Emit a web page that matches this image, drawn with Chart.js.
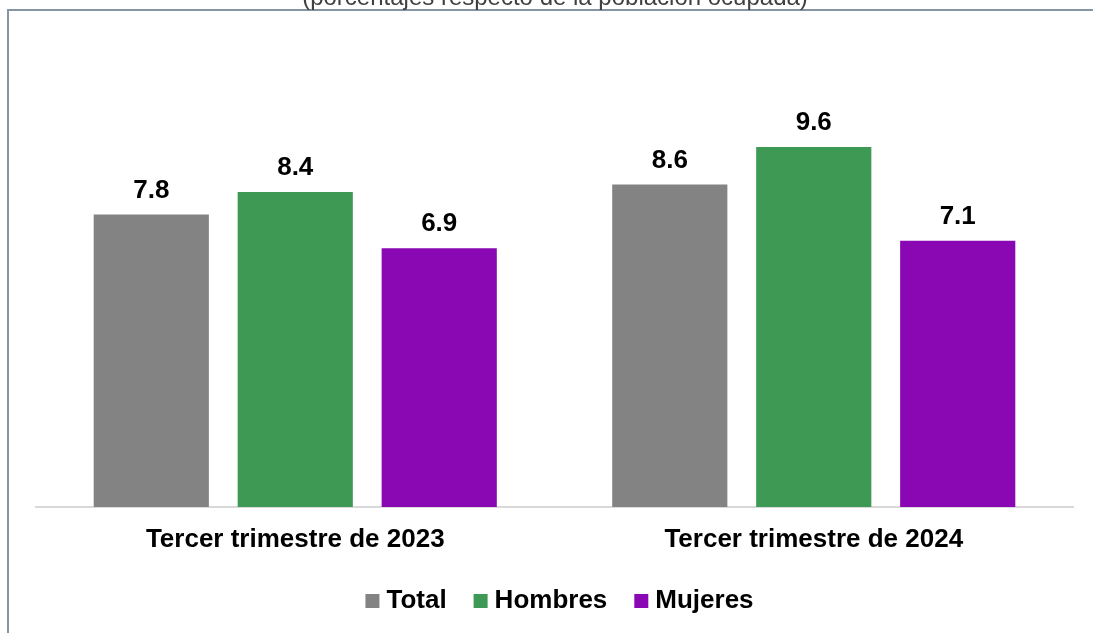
<!DOCTYPE html>
<html>
<head>
<meta charset="utf-8">
<script src="https://cdn.jsdelivr.net/npm/chart.js@4"></script>
<style>
  html, body { margin: 0; padding: 0; background: #ffffff; }
  #wrap { width: 1093px; height: 633px; position: relative; }
</style>
</head>
<body>
<div id="wrap"><canvas id="c"></canvas></div>
<script>
const categories = ['Tercer trimestre de 2023', 'Tercer trimestre de 2024'];
const seriesNames = ['Total', 'Hombres', 'Mujeres'];
const totalValues = [7.8, 8.6];
const hombresValues = [8.4, 9.6];
const mujeresValues = [6.9, 7.1];
const subtitleText = '(porcentajes respecto de la población ocupada)';

const FONT = "'Liberation Sans', Arial, Helvetica, sans-serif";

const frameAndSubtitle = {
  id: 'frameAndSubtitle',
  beforeDraw(chart) {
    const ctx = chart.ctx;
    ctx.save();
    ctx.fillStyle = '#ffffff';
    ctx.fillRect(0, 0, chart.width, chart.height);
    ctx.strokeStyle = '#8595a3';
    ctx.lineWidth = 2;
    ctx.strokeRect(8, 10, chart.width + 20, chart.height + 20);
    ctx.fillStyle = '#404040';
    ctx.font = '24px ' + FONT;
    ctx.textAlign = 'center';
    ctx.textBaseline = 'alphabetic';
    ctx.fillText(subtitleText, 555, 5);
    ctx.restore();
  }
};

const legendShift = {
  id: 'legendShift',
  afterLayout(chart) {
    const lg = chart.legend;
    if (lg) { lg.left += 8; lg.right += 8; }
  }
};

const valueLabels = {
  id: 'valueLabels',
  afterDatasetsDraw(chart) {
    const ctx = chart.ctx;
    ctx.save();
    ctx.fillStyle = '#000000';
    ctx.font = 'bold 26px ' + FONT;
    ctx.textAlign = 'center';
    ctx.textBaseline = 'alphabetic';
    chart.data.datasets.forEach((ds, di) => {
      const meta = chart.getDatasetMeta(di);
      meta.data.forEach((bar, i) => {
        ctx.fillText(ds.data[i].toFixed(1), bar.x, bar.y - 17);
      });
    });
    ctx.restore();
  }
};

new Chart(document.getElementById('c'), {
  type: 'bar',
  data: {
    labels: categories,
    datasets: [
      { label: seriesNames[0], data: totalValues, backgroundColor: '#838383' },
      { label: seriesNames[1], data: hombresValues, backgroundColor: '#3e9955' },
      { label: seriesNames[2], data: mujeresValues, backgroundColor: '#8a08b4' }
    ]
  },
  options: {
    responsive: true,
    maintainAspectRatio: false,
    animation: false,
    devicePixelRatio: 1,
    categoryPercentage: 0.833,
    barPercentage: 0.8,
    layout: { padding: { left: 36, right: 20, top: 57, bottom: 10 } },
    scales: {
      x: {
        grid: { display: false, drawTicks: false },
        border: { display: true, color: '#d9d9d9', width: 2 },
        ticks: { color: '#000000', font: { family: FONT, size: 26, weight: 'bold' }, padding: 17 },
        afterFit(scale) { scale.height = 48; }
      },
      y: {
        display: false,
        min: 0,
        max: 12
      }
    },
    plugins: {
      legend: {
        position: 'bottom',
        maxHeight: 68,
        labels: {
          color: '#000000',
          font: { family: FONT, size: 26, weight: 'bold' },
          usePointStyle: true,
          pointStyle: 'rect',
          boxWidth: 2,
          boxHeight: 14,
          padding: 33
        }
      },
      tooltip: { enabled: false },
      title: { display: false }
    }
  },
  plugins: [frameAndSubtitle, legendShift, valueLabels]
});
</script>
</body>
</html>
